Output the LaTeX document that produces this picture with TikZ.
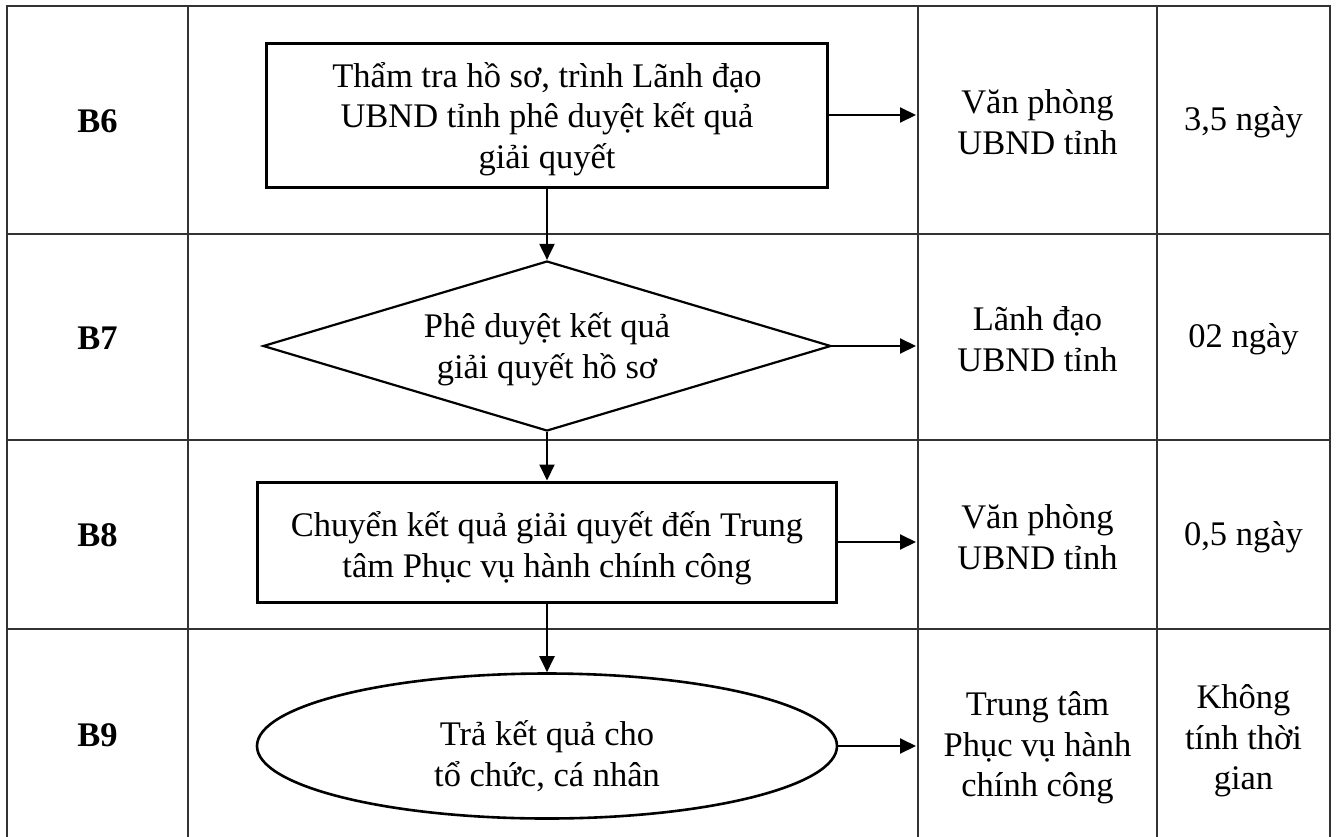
\documentclass[tikz,border=0pt]{standalone}
\usepackage{fontspec}
\setmainfont{Liberation Serif}
\usetikzlibrary{arrows.meta,shapes.geometric}
\begin{document}
\begin{tikzpicture}[x=1pt,y=-1pt,
  grid/.style={line width=1.6pt,draw=black!80},
  shp/.style={draw,line width=3pt,inner sep=0pt},
  txt/.style={align=center,font=\fontsize{34.5}{40.5}\selectfont,inner sep=0pt},
  lbl/.style={font=\fontsize{34.5}{40}\selectfont\bfseries,inner sep=0pt},
  arr/.style={line width=2pt,-{Triangle[length=16pt,width=15pt]}}]
\useasboundingbox (0,0) rectangle (1336,836);
% table
\draw[grid] (7,850) -- (7,6) -- (1330,6) -- (1330,850);
\draw[grid] (7,234) -- (1330,234) (7,440) -- (1330,440) (7,629) -- (1330,629);
\draw[grid] (188,6) -- (188,850) (918,6) -- (918,850) (1157,6) -- (1157,850);
\coordinate (col) at (916,6);
% step labels
\node[lbl] (l6) at (97.5,121) {B6};
\node[lbl] (l7) at (97.5,338) {B7};
\node[lbl] (l8) at (97.5,535) {B8};
\node[lbl] (l9) at (97.5,735) {B9};
% flow shapes
\node[shp,minimum width=561,minimum height=144] (b6) at (547,115) {};
\node[txt] (t6) at (547,119) {Thẩm tra hồ sơ, trình Lãnh đạo\\UBND tỉnh phê duyệt kết quả\\giải quyết};
\node[shp,diamond,line width=2.2pt,minimum width=568,minimum height=170] (d7) at (547,346) {};
\node[txt] (t7) at (547,349) {Phê duyệt kết quả\\giải quyết hồ sơ};
\node[shp,minimum width=579,minimum height=120] (b8) at (547,542) {};
\node[txt] (t8) at (547,548) {Chuyển kết quả giải quyết đến Trung\\tâm Phục vụ hành chính công};
\node[shp,ellipse,line width=2.6pt,minimum width=580,minimum height=145] (e9) at (547,746) {};
\node[txt] (t9) at (547,756) {Trả kết quả cho\\tổ chức, cá nhân};
% responsible units
\node[txt] (o6) at (1037.5,122) {Văn phòng\\UBND tỉnh};
\node[txt] (o7) at (1037.5,339) {Lãnh đạo\\UBND tỉnh};
\node[txt] (o8) at (1037.5,537) {Văn phòng\\UBND tỉnh};
\node[txt] (o9) at (1037.5,748) {Trung tâm\\Phục vụ hành\\chính công};
% durations
\node[txt] (p6) at (1243.5,122) {3,5 ngày};
\node[txt] (p7) at (1243.5,339) {02 ngày};
\node[txt] (p8) at (1243.5,537) {0,5 ngày};
\node[txt] (p9) at (1243.5,741) {Không\\tính thời\\gian};
% connectors
\draw[arr] (b6) -- (d7.north);
\draw[arr] (d7.south) -- (b8);
\draw[arr] (b8) -- (e9);
\draw[arr] (b6.east) -- (b6.east -| col);
\draw[arr] (d7.east) -- (d7.east -| col);
\draw[arr] (b8.east) -- (b8.east -| col);
\draw[arr] (e9.east) -- (e9.east -| col);
\end{tikzpicture}
\end{document}
